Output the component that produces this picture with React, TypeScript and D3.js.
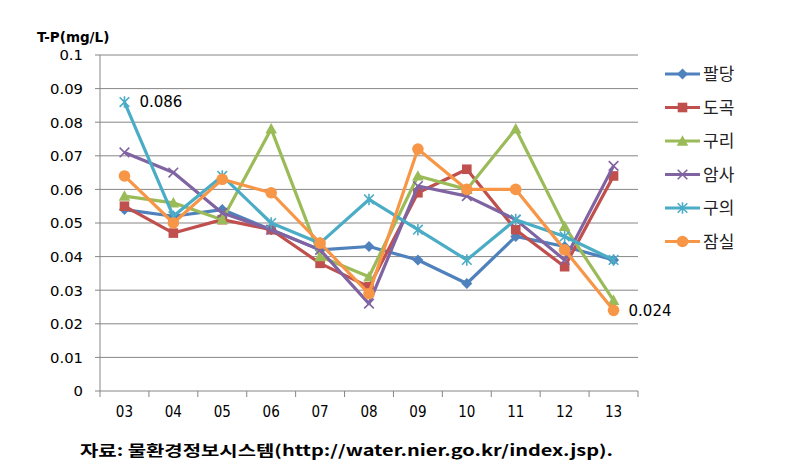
import React from "react";
import * as d3 from "d3";

const years = ["03", "04", "05", "06", "07", "08", "09", "10", "11", "12", "13"];
const yTicks = [0, 0.01, 0.02, 0.03, 0.04, 0.05, 0.06, 0.07, 0.08, 0.09, 0.1];
const seriesNames = ["팔당", "도곡", "구리", "암사", "구의", "잠실"];
const seriesColors = ["#4F81BD", "#C0504D", "#9BBB59", "#8064A2", "#4BACC6", "#F79646"];
const seriesMarkers = ["diamond", "square", "triangle", "x", "star", "circle"];
const paldang = [0.054, 0.052, 0.054, 0.048, 0.042, 0.043, 0.039, 0.032, 0.046, 0.043, 0.039];
const dogok = [0.055, 0.047, 0.051, 0.048, 0.038, 0.031, 0.059, 0.066, 0.048, 0.037, 0.064];
const guri = [0.058, 0.056, 0.051, 0.078, 0.040, 0.034, 0.064, 0.060, 0.078, 0.049, 0.027];
const amsa = [0.071, 0.065, 0.053, 0.048, 0.042, 0.026, 0.061, 0.058, 0.051, 0.039, 0.067];
const guui = [0.086, 0.052, 0.064, 0.050, 0.044, 0.057, 0.048, 0.039, 0.051, 0.046, 0.039];
const jamsil = [0.064, 0.050, 0.063, 0.059, 0.044, 0.029, 0.072, 0.060, 0.060, 0.042, 0.024];
const seriesValues = [paldang, dogok, guri, amsa, guui, jamsil];
const annotations = [
  { series: 4, index: 0, text: "0.086" },
  { series: 5, index: 10, text: "0.024" },
];
const yTitle = "T-P(mg/L)";
const caption = "자료: 물환경정보시스템(http://water.nier.go.kr/index.jsp).";

const W = 790;
const H = 467;
const left = 100;
const right = 638;
const top = 55;
const bottom = 391;

function Marker({ type, x, y, color }: { type: string; x: number; y: number; color: string }) {
  if (type === "diamond") {
    const s = 5.5;
    return <path d={`M${x},${y - s}L${x + s},${y}L${x},${y + s}L${x - s},${y}Z`} fill={color} />;
  }
  if (type === "square") {
    const s = 4.8;
    return <rect x={x - s} y={y - s} width={2 * s} height={2 * s} fill={color} />;
  }
  if (type === "triangle") {
    const s = 5.8;
    return <path d={`M${x},${y - s}L${x + s},${y + s * 0.8}L${x - s},${y + s * 0.8}Z`} fill={color} />;
  }
  if (type === "x") {
    const s = 4.8;
    return (
      <path d={`M${x - s},${y - s}L${x + s},${y + s}M${x + s},${y - s}L${x - s},${y + s}`} stroke={color} strokeWidth={1.6} fill="none" />
    );
  }
  if (type === "star") {
    const s = 4.8;
    return (
      <path
        d={`M${x - s},${y - s}L${x + s},${y + s}M${x + s},${y - s}L${x - s},${y + s}M${x},${y - s - 1}L${x},${y + s + 1}`}
        stroke={color}
        strokeWidth={1.6}
        fill="none"
      />
    );
  }
  return <circle cx={x} cy={y} r={5.8} fill={color} />;
}

export default function App() {
  const x = d3.scaleBand<string>().domain(years).range([left, right]);
  const y = d3.scaleLinear().domain([0, 0.1]).range([bottom, top]);
  const cx = (yr: string) => (x(yr) as number) + x.bandwidth() / 2;
  const line = d3
    .line<number>()
    .x((_, i) => cx(years[i]))
    .y((v) => y(v));
  const boundaries = years.map((yr) => x(yr) as number).concat([right]);

  return (
    <svg width={W} height={H} style={{ position: "absolute", left: 0, top: 0, background: "#fff" }}>
      <rect x={0} y={0} width={W} height={H} fill="#fff" />
      {yTicks.map((t) => (
        <g key={t}>
          <line x1={left - 5} x2={right} y1={y(t)} y2={y(t)} stroke="#868686" strokeWidth={1} />
          <text
            x={83}
            y={y(t)}
            dy="0.36em"
            textAnchor="end"
            fontFamily="DejaVu Sans, sans-serif"
            fontSize={14.8}
            fill="#000"
          >
            {d3.format("")(+t.toFixed(2))}
          </text>
        </g>
      ))}
      <line x1={left} x2={left} y1={top} y2={bottom} stroke="#868686" />
      {boundaries.map((b, i) => (
        <line key={i} x1={b} x2={b} y1={bottom} y2={bottom + 6} stroke="#868686" />
      ))}
      {years.map((yr) => (
        <text
          key={yr}
          x={cx(yr)}
          y={417}
          textAnchor="middle"
          fontFamily="DejaVu Sans Condensed, DejaVu Sans, sans-serif"
          fontSize={15}
          fill="#000"
        >
          {yr}
        </text>
      ))}
      <text x={37} y={42} fontFamily="DejaVu Sans, sans-serif" fontWeight="bold" fontSize={13.5} fill="#000">
        {yTitle}
      </text>
      {seriesValues.map((vals, si) => (
        <g key={si}>
          <path d={line(vals) || ""} fill="none" stroke={seriesColors[si]} strokeWidth={3.2} strokeLinejoin="round" />
          {vals.map((v, i) => (
            <Marker key={i} type={seriesMarkers[si]} x={cx(years[i])} y={y(v)} color={seriesColors[si]} />
          ))}
        </g>
      ))}
      {annotations.map((a, i) => (
        <text
          key={i}
          x={cx(years[a.index]) + 15}
          y={y(seriesValues[a.series][a.index])}
          dy="0.36em"
          fontFamily="DejaVu Sans, sans-serif"
          fontSize={15}
          fill="#000"
        >
          {a.text}
        </text>
      ))}
      {seriesNames.map((name, i) => {
        const ly = 74 + i * 33.5;
        return (
          <g key={name}>
            <line x1={665} x2={700} y1={ly} y2={ly} stroke={seriesColors[i]} strokeWidth={3.2} />
            <Marker type={seriesMarkers[i]} x={682.5} y={ly} color={seriesColors[i]} />
            <text x={703} y={ly} dy="0.36em" fontFamily="Noto Sans CJK KR, sans-serif" fontSize={17} fill="#222">
              {name}
            </text>
          </g>
        );
      })}
      <text
        x={80}
        y={456}
        fontFamily="Noto Sans CJK KR, serif"
        fontWeight="bold"
        fontSize={15}
        textLength={533}
        lengthAdjust="spacingAndGlyphs"
        fill="#000"
      >
        {caption}
      </text>
    </svg>
  );
}
